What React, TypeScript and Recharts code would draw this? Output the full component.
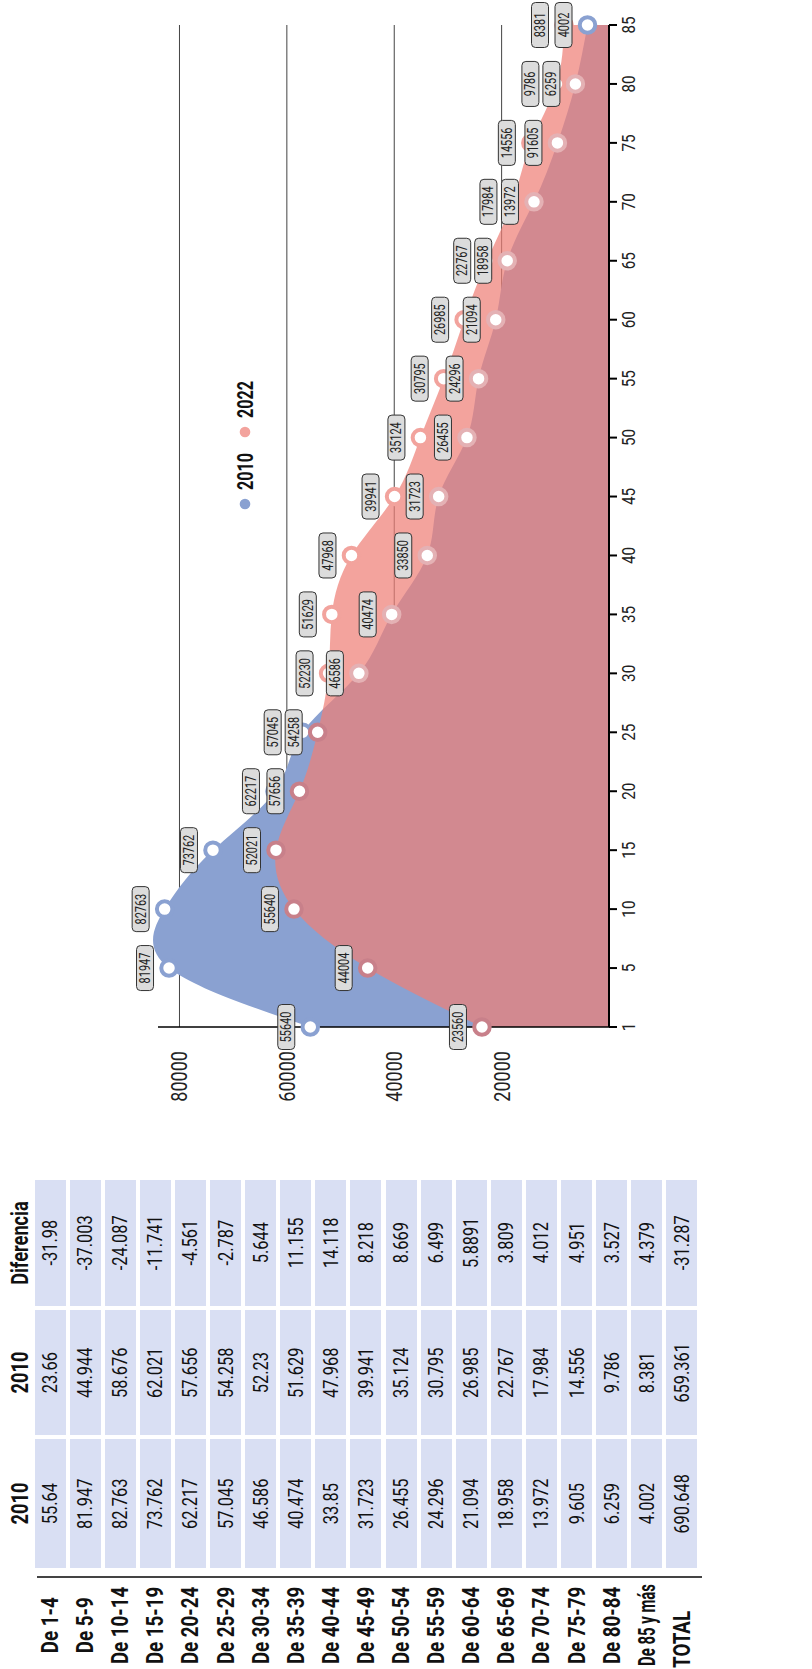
import React from "react";
import {
  ComposedChart, Area, Line, XAxis, YAxis, CartesianGrid, LabelList,
} from "recharts";

// chart values (age group start, 2010 and 2022 population)
const ages = ["1", "5", "10", "15", "20", "25", "30", "35", "40", "45", "50", "55", "60", "65", "70", "75", "80", "85"];
const pop2010 = [55640, 81947, 82763, 73762, 62217, 57045, 46586, 40474, 33850, 31723, 26455, 24296, 21094, 18958, 13972, 9605, 6259, 4002];
const pop2022 = [23660, 44944, 58676, 62021, 57656, 54258, 52230, 51629, 47968, 39941, 35124, 30795, 26985, 22767, 17984, 14556, 9786, 8381];
// the labels as printed on the chart
const labels2010 = ["55640", "81947", "82763", "73762", "62217", "57045", "46586", "40474", "33850", "31723", "26455", "24296", "21094", "18958", "13972", "91605", "6259", "4002"];
const labels2022 = ["23560", "44004", "55640", "52021", "57656", "54258", "52230", "51629", "47968", "39941", "35124", "30795", "26985", "22767", "17984", "14556", "9786", "8381"];
const valueTicks = [20000, 40000, 60000, 80000];
const seriesNames = ["2010", "2022"];

// table
const groups = ["De 1-4", "De 5-9", "De 10-14", "De 15-19", "De 20-24", "De 25-29", "De 30-34", "De 35-39", "De 40-44", "De 45-49", "De 50-54", "De 55-59", "De 60-64", "De 65-69", "De 70-74", "De 75-79", "De 80-84", "De 85 y más", "TOTAL"];
const colA = ["55.64", "81.947", "82.763", "73.762", "62.217", "57.045", "46.586", "40.474", "33.85", "31.723", "26.455", "24.296", "21.094", "18.958", "13.972", "9.605", "6.259", "4.002", "690.648"];
const colB = ["23.66", "44.944", "58.676", "62.021", "57.656", "54.258", "52.23", "51.629", "47.968", "39.941", "35.124", "30.795", "26.985", "22.767", "17.984", "14.556", "9.786", "8.381", "659.361"];
const colDiff = ["-31.98", "-37.003", "-24.087", "-11.741", "-4.561", "-2.787", "5.644", "11.155", "14.118", "8.218", "8.669", "6.499", "5.8891", "3.809", "4.012", "4.951", "3.527", "4.379", "-31.287"];
const tableHeads = ["2010", "2010", "Diferencia"];

const data = ages.map((age, i) => ({
  age,
  v2010: pop2010[i],
  v2022: pop2022[i],
  l2010: labels2010[i],
  l2022: labels2022[i],
}));

const FONT = "Roboto, 'Noto Sans', sans-serif";
const BLUE = "#8aa1d1";
const PINK = "#ee7f77";
const CELL = "#d9dff3";
const Y_MAX = 84000;
const PLOT_H = 451;

// condensed html text
function Cond({ children, s = 0.8 }: { children: React.ReactNode; s?: number }) {
  return <span style={{ display: "inline-block", transform: `scaleX(${s})`, whiteSpace: "nowrap" }}>{children}</span>;
}

function makeBoxLabel(own: number[], other: number[]) {
  return function BoxLabel(props: any) {
    const { x, y, value, index } = props;
    if (x == null || y == null) return null;
    // keep two labels of one age from sitting on each other
    const gap = ((other[index] - own[index]) * PLOT_H) / Y_MAX;
    let off = 24;
    if (gap > -21 && gap < 0) off += 21 + gap;
    const cy = y - off;
    return (
      <g>
        <rect x={x - 22.5} y={cy - 8.5} width={45} height={17} rx={4} fill="#dcdcdc" stroke="#333" strokeWidth={1} />
        <text transform={`translate(${x},${cy}) scale(0.78,1)`} dy="0.36em" textAnchor="middle" fontSize={14} fill="#222">{value}</text>
      </g>
    );
  };
}
const Label2010 = makeBoxLabel(pop2010, pop2022);
const Label2022 = makeBoxLabel(pop2022, pop2010);

// marker ring takes the tint of the area it sits in
function Dot2010(props: any) {
  const { cx, cy, index } = props;
  if (cx == null || cy == null) return <g key={index} />;
  const inside = pop2010[index] < pop2022[index] && index < ages.length - 1;
  return <circle key={index} cx={cx} cy={cy} r={7.75} fill="#fff" stroke={inside ? "#e4b1b4" : BLUE} strokeWidth={4} />;
}
function Dot2022(props: any) {
  const { cx, cy, index } = props;
  if (cx == null || cy == null) return <g key={index} />;
  const overBlue = pop2022[index] < pop2010[index];
  return <circle key={index} cx={cx} cy={cy} r={7.75} fill="#fff" stroke={overBlue ? "#c8808a" : "#f2a39d"} strokeWidth={4} />;
}

function AgeTick(props: any) {
  const { x, y, payload } = props;
  return (
    <text transform={`translate(${x},${y}) scale(0.8,1)`} dy="0.75em" textAnchor="middle" fontSize={19} fill="#222">{payload.value}</text>
  );
}

function ValueTick(props: any) {
  const { x, y, payload } = props;
  return (
    <text transform={`translate(${x},${y}) scale(0.82,1)`} dy="0.36em" textAnchor="end" fontSize={22} fill="#222">{payload.value}</text>
  );
}

function LegendBox() {
  const cols = [BLUE, "#f3a39d"];
  return (
    <svg width={150} height={30} style={{ position: "absolute", left: 1155, top: 230 }}>
      {seriesNames.map((n, i) => (
        <g key={n} transform={`translate(${i * 72},0)`}>
          <circle cx={10} cy={15} r={5.3} fill={cols[i]} />
          <text x={24} y={15} dy="0.36em" fontSize={22} fontWeight={700} fill="#111" textLength={37} lengthAdjust="spacingAndGlyphs">{n}</text>
        </g>
      ))}
    </svg>
  );
}

const PITCH = 35.1;
const ROW0 = 34.5;

function Table() {
  const cols = [
    { title: tableHeads[0], values: colA, left: 101, width: 129 },
    { title: tableHeads[1], values: colB, left: 234, width: 125 },
    { title: tableHeads[2], values: colDiff, left: 363, width: 126 },
  ];
  return (
    <div style={{ position: "absolute", left: 0, top: 0, width: 500, height: 812, fontFamily: FONT, color: "#111" }}>
      {cols.map((c, ci) => (
        <React.Fragment key={ci}>
          <div style={{ position: "absolute", left: c.left, top: 4, width: c.width, height: 32, display: "flex", alignItems: "center", justifyContent: "center", fontWeight: 700, fontSize: 24 }}><Cond s={0.76}>{c.title}</Cond></div>
          {c.values.map((v, i) => (
            <div key={i} style={{ position: "absolute", left: c.left, top: ROW0 + i * PITCH, width: c.width, height: 31, background: CELL, display: "flex", alignItems: "center", justifyContent: "center", fontSize: 21 }}><Cond s={0.78}>{v}</Cond></div>
          ))}
        </React.Fragment>
      ))}
      <div style={{ position: "absolute", left: 91, top: 37, width: 1.5, height: 665, background: "#444" }} />
      {groups.map((g, i) => (
        <div key={g} style={{ position: "absolute", left: i === groups.length - 1 ? -14 : 0, top: ROW0 + i * PITCH, width: 88, height: 31, display: "flex", alignItems: "center", justifyContent: "center", fontWeight: 700, fontSize: 24, overflow: "visible" }}>
          <Cond s={g.length > 9 ? 0.62 : 0.78}>{g}</Cond>
        </div>
      ))}
    </div>
  );
}

export default function App() {
  return (
    <div style={{ position: "absolute", left: 0, top: 0, width: 812, height: 1669, overflow: "hidden", background: "#fff", fontFamily: FONT }}>
      <div style={{ position: "absolute", left: 0, top: 0, width: 1669, height: 812, transformOrigin: "0 0", transform: "translateY(1669px) rotate(-90deg)" }}>
        <Table />
        <div style={{ position: "absolute", left: 520, top: 0 }}>
          <ComposedChart width={1149} height={812} data={data} margin={{ top: 158, right: 25, bottom: 163, left: 62 }}>
            <XAxis dataKey="age" scale="point" interval={0} tickSize={8} tickMargin={4}
              axisLine={{ stroke: "#000", strokeWidth: 2 }} tickLine={{ stroke: "#000", strokeWidth: 2 }}
              tick={AgeTick} height={40} />
            <YAxis type="number" domain={[0, Y_MAX]} ticks={valueTicks} width={60} tickSize={8} tickMargin={16}
              axisLine={{ stroke: "#000", strokeWidth: 1.5 }} tickLine={false} tick={ValueTick} />
            <Area dataKey="v2010" type="natural" fill={BLUE} fillOpacity={1} stroke="none" dot={false} activeDot={false} isAnimationActive={false} />
            <Area dataKey="v2022" type="natural" fill={PINK} fillOpacity={0.72} stroke="none" dot={false} activeDot={false} isAnimationActive={false} />
            <CartesianGrid vertical={false} horizontalValues={valueTicks} stroke="#444" strokeWidth={1} />
            <Line dataKey="v2010" type="natural" stroke="none" isAnimationActive={false} activeDot={false} dot={Dot2010} />
            <Line dataKey="v2022" type="natural" stroke="none" isAnimationActive={false} activeDot={false} dot={Dot2022} />
            <Line dataKey="v2010" type="natural" stroke="none" dot={false} activeDot={false} isAnimationActive={false}>
              <LabelList dataKey="l2010" content={Label2010} />
            </Line>
            <Line dataKey="v2022" type="natural" stroke="none" dot={false} activeDot={false} isAnimationActive={false}>
              <LabelList dataKey="l2022" content={Label2022} />
            </Line>
          </ComposedChart>
        </div>
        <LegendBox />
      </div>
    </div>
  );
}
